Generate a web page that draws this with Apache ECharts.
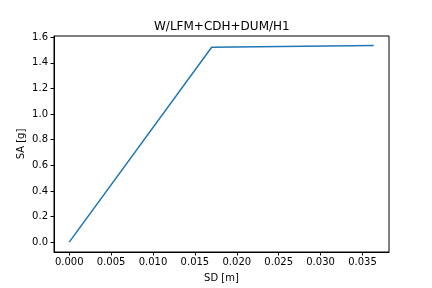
<!DOCTYPE html>
<html><head><meta charset="utf-8">
<script src="https://cdn.jsdelivr.net/npm/echarts@6/dist/echarts.min.js"></script>
<style>html,body{margin:0;padding:0;background:#fff}#c{width:432px;height:288px}</style>
</head><body><div id="c"></div>
<script>
const sd = [0.0, 0.0170, 0.03635];
const sa = [0.0, 1.522, 1.535];
const xTicks = [0.000, 0.005, 0.010, 0.015, 0.020, 0.025, 0.030, 0.035];
const yTicks = [0.0, 0.2, 0.4, 0.6, 0.8, 1.0, 1.2, 1.4, 1.6];
const titleText = 'W/LFM+CDH+DUM/H1';

const chart = echarts.init(document.getElementById('c'), null, {renderer: 'canvas'});
const font = 'DejaVu Sans';
chart.setOption({
  animation: false,
  title: {text: titleText, left: 149, top: 16,
    textStyle: {fontFamily: font, fontSize: 12, fontWeight: 'normal', color: '#000'}},
  grid: {left: 54, right: 43, top: 36, bottom: 36, show: true, borderColor: '#000', borderWidth: 1, backgroundColor: 'transparent'},
  xAxis: {type: 'value', min: -0.00182, max: 0.03817,
    name: 'SD [m]', nameLocation: 'middle', nameGap: 21,
    nameTextStyle: {fontFamily: font, fontSize: 10, color: '#000'},
    axisLine: {show: true, onZero: false, lineStyle: {color: '#000', width: 1}},
    axisTick: {show: true, length: 3.5, lineStyle: {color: '#000'}, customValues: xTicks},
    axisLabel: {fontFamily: font, fontSize: 10, color: '#000', margin: 5, customValues: xTicks,
      formatter: v => v.toFixed(3)},
    splitLine: {show: false}},
  yAxis: {type: 'value', min: -0.0767, max: 1.6097,
    name: 'SA [g]', nameLocation: 'middle', nameGap: 28, nameMoveOverlap: false,
    nameTextStyle: {fontFamily: font, fontSize: 10, color: '#000'},
    axisLine: {show: true, onZero: false, lineStyle: {color: '#000', width: 1}},
    axisTick: {show: true, length: 3.5, lineStyle: {color: '#000'}, customValues: yTicks},
    axisLabel: {fontFamily: font, fontSize: 10, color: '#000', margin: 6, customValues: yTicks,
      formatter: v => v.toFixed(1)},
    splitLine: {show: false}},
  series: [{type: 'line', data: sd.map((x, i) => [x, sa[i]]), showSymbol: false,
    lineStyle: {color: '#1f77b4', width: 1.5}, itemStyle: {color: '#1f77b4'}}]
});
</script></body></html>
